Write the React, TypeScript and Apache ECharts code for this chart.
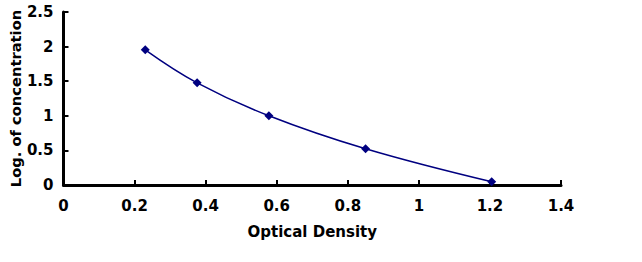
import React, { useEffect, useRef } from "react";
import * as echarts from "echarts";

const opticalDensity = [0.23, 0.376, 0.578, 0.85, 1.205];
const logConcentration = [1.954, 1.477, 1.0, 0.523, 0.046];
const xTitle = "Optical Density";
const yTitle = "Log. of concentration";

export default function App() {
  const ref = useRef<HTMLDivElement>(null);
  useEffect(() => {
    if (!ref.current) return;
    const chart = echarts.init(ref.current, undefined, { renderer: "svg" });
    const family = "DejaVu Sans, Verdana, sans-serif";
    const labelFont = { fontFamily: family, fontWeight: "bold" as const, fontSize: 15, color: "#000" };
    chart.setOption({
      animation: false,
      backgroundColor: "#fff",
      grid: { left: 63.5, right: 81, top: 12, bottom: 77, containLabel: false, outerBoundsMode: "none" },
      xAxis: {
        type: "value",
        min: 0,
        max: 1.4,
        interval: 0.2,
        name: xTitle,
        nameLocation: "middle",
        nameGap: 39,
        nameMoveOverlap: false,
        nameTextStyle: { ...labelFont, fontSize: 15 },
        axisLine: { show: true, onZero: false, lineStyle: { color: "#000", width: 3 } },
        axisTick: { show: true, inside: true, length: 5, lineStyle: { color: "#000", width: 2 } },
        axisLabel: { ...labelFont, margin: 13 },
        splitLine: { show: false },
      },
      yAxis: {
        type: "value",
        min: 0,
        max: 2.5,
        interval: 0.5,
        name: yTitle,
        nameLocation: "middle",
        nameGap: 41,
        nameMoveOverlap: false,
        nameTextStyle: { ...labelFont, fontSize: 14.7 },
        axisLine: { show: true, onZero: false, lineStyle: { color: "#000", width: 3 } },
        axisTick: { show: true, inside: true, length: 5, lineStyle: { color: "#000", width: 2 } },
        axisLabel: { ...labelFont, margin: 10 },
        splitLine: { show: false },
      },
      series: [
        {
          type: "line",
          data: opticalDensity.map((x, i) => [x, logConcentration[i]]),
          smooth: 0.4,
          symbol: "diamond",
          symbolSize: 9,
          itemStyle: { color: "#000080" },
          lineStyle: { color: "#000080", width: 1.5 },
        },
      ],
    });
    return () => chart.dispose();
  }, []);
  return <div ref={ref} style={{ width: 642, height: 262, position: "absolute", left: 0, top: 0 }} />;
}
